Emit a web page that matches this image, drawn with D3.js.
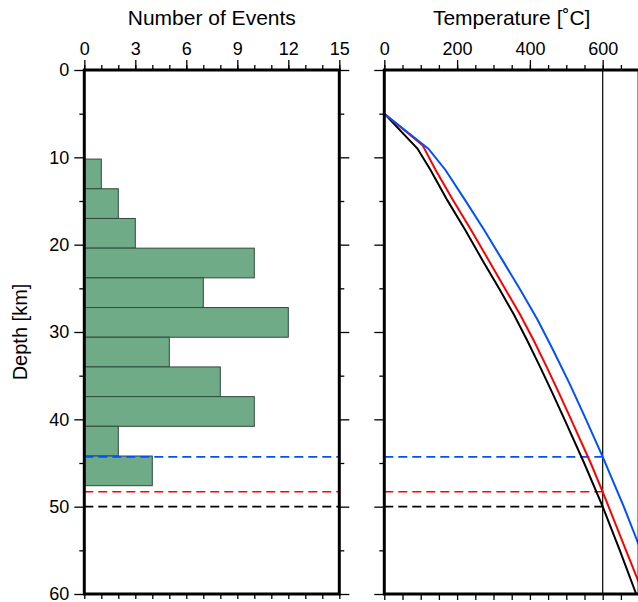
<!DOCTYPE html>
<html>
<head>
<meta charset="utf-8">
<script src="https://cdn.jsdelivr.net/npm/d3@7"></script>
<style>
	body { margin: 0; background: #fff; }
	svg { display: block; font-family: "Liberation Sans", Arial, sans-serif; }
	.tick text { font-size: 18px; fill: #000; }
	.tick line { stroke: #000; stroke-width: 1.3; }
	.domain { display: none; }
</style>
</head>
<body>
<svg id="chart"></svg>
<script>
// Histogram of event depths (km) and counts.
var binEdges = [10.2, 13.6, 17.0, 20.4, 23.8, 27.2, 30.6, 34.0, 37.4, 40.8, 44.2, 47.6];
var eventCounts = [1, 2, 3, 10, 7, 12, 5, 8, 10, 2, 4];

// Geotherms: depth (km) vs temperature (C).
var blackDepths = [5, 9, 11.45, 14.9, 18.3, 21.8, 25, 28, 31, 34, 37, 40, 45, 50, 55, 60];
var blackTemps  = [0, 91, 127, 173, 222, 270, 315, 356, 393, 428, 462, 495, 549, 600, 647, 692];
var redDepths   = [5, 8.6, 11.45, 14.9, 18.3, 21.8, 25, 28, 31, 34, 37, 40, 45, 48.3, 55, 60];
var redTemps    = [0, 105, 141, 189, 238, 287, 331, 373, 411, 446, 480, 513, 567, 600, 664, 712];
var blueDepths  = [5, 9, 11.45, 14.9, 18.3, 21.8, 25.2, 28.6, 32, 36, 40, 44.3, 50, 55, 60];
var blueTemps   = [0, 121, 168, 222, 274, 325, 374, 421, 463, 510, 554, 600, 658, 705, 750];

// Depth of the 600 C isotherm for each geotherm.
var isoColors = ["#000000", "#ff0000", "#0050ff"];
var isoDepths = [50.0, 48.3, 44.3];
var isoTemp = 600;

var countTicks = [0, 3, 6, 9, 12, 15];
var tempTicks = [0, 200, 400, 600];
var depthTicks = [0, 10, 20, 30, 40, 50, 60];

// Definitions.
var width = 638, height = 602;
var plotTop = 70, plotBottom = 594;
var leftX0 = 84.3, leftX1 = 339.3;
var rightX0 = 384.3, rightX1 = 639.1;
var frameWidth = 3;

var svg = d3.select("#chart").attr("width", width).attr("height", height);

var y = d3.scaleLinear().domain([0, 60]).range([plotTop, plotBottom]);
var xCount = d3.scaleLinear().domain([0, 15]).range([leftX0, leftX1]);
var xTemp = d3.scaleLinear().domain([0, 700]).range([rightX0, rightX1]);

svg.append("clipPath").attr("id", "clipRight")
	.append("rect")
	.attr("x", rightX0).attr("y", plotTop)
	.attr("width", rightX1 - rightX0).attr("height", plotBottom - plotTop);

/*************
* Left panel *
*************/
var bins = eventCounts.map(function(c, i) { return {count: c, d0: binEdges[i], d1: binEdges[i + 1]}; });
svg.append("g").selectAll("rect")
	.data(bins)
	.enter()
	.append("rect")
	.attr("x", xCount(0))
	.attr("y", function(d) { return y(d.d0); })
	.attr("width", function(d) { return xCount(d.count) - xCount(0); })
	.attr("height", function(d) { return y(d.d1) - y(d.d0); })
	.attr("fill", "#6fab86")
	.attr("stroke", "#2f4a3a")
	.attr("stroke-width", 1);

var iso = isoDepths.map(function(d, i) { return {depth: d, color: isoColors[i]}; });
svg.append("g").selectAll("line")
	.data(iso)
	.enter()
	.append("line")
	.attr("x1", xCount(0)).attr("x2", xCount(15))
	.attr("y1", function(d) { return y(d.depth); })
	.attr("y2", function(d) { return y(d.depth); })
	.attr("stroke", function(d) { return d.color; })
	.attr("stroke-width", 1.6)
	.attr("stroke-dasharray", "9,5");

// Count axes: top (labelled) and bottom.
svg.append("g").attr("transform", "translate(0," + plotTop + ")")
	.call(d3.axisTop(xCount).tickValues(d3.range(0, 16)).tickSize(5).tickFormat(""));
svg.append("g").attr("transform", "translate(0," + plotTop + ")")
	.call(d3.axisTop(xCount).tickValues(countTicks).tickSize(10).tickPadding(5));
svg.append("g").attr("transform", "translate(0," + plotBottom + ")")
	.call(d3.axisBottom(xCount).tickValues(d3.range(0, 16)).tickSize(5).tickFormat(""));

// Depth axes.
var minorDepth = d3.range(5, 60, 10);
svg.append("g").attr("transform", "translate(" + leftX0 + ",0)")
	.call(d3.axisLeft(y).tickValues(depthTicks).tickSize(10).tickPadding(5));
svg.append("g").attr("transform", "translate(" + leftX0 + ",0)")
	.call(d3.axisLeft(y).tickValues(minorDepth).tickSize(5).tickFormat(""));
svg.append("g").attr("transform", "translate(" + leftX1 + ",0)")
	.call(d3.axisRight(y).tickValues(depthTicks).tickSize(10).tickFormat(""));
svg.append("g").attr("transform", "translate(" + leftX1 + ",0)")
	.call(d3.axisRight(y).tickValues(minorDepth).tickSize(5).tickFormat(""));

svg.append("rect")
	.attr("x", leftX0).attr("y", plotTop)
	.attr("width", leftX1 - leftX0).attr("height", plotBottom - plotTop)
	.attr("fill", "none").attr("stroke", "#000").attr("stroke-width", frameWidth);

svg.append("text")
	.attr("x", (leftX0 + leftX1) / 2).attr("y", 25)
	.attr("text-anchor", "middle").attr("font-size", 21)
	.text("Number of Events");

svg.append("text")
	.attr("transform", "translate(27," + ((plotTop + plotBottom) / 2) + ") rotate(-90)")
	.attr("text-anchor", "middle").attr("font-size", 20)
	.text("Depth [km]");

/**************
* Right panel *
**************/
var plot = svg.append("g").attr("clip-path", "url(#clipRight)");

var geotherms = [
	{color: "#000000", depths: blackDepths, temps: blackTemps},
	{color: "#ff0000", depths: redDepths, temps: redTemps},
	{color: "#0050ff", depths: blueDepths, temps: blueTemps}
];
var line = d3.line()
	.x(function(d) { return xTemp(d[1]); })
	.y(function(d) { return y(d[0]); });

plot.append("line")
	.attr("x1", xTemp(isoTemp)).attr("x2", xTemp(isoTemp))
	.attr("y1", plotTop).attr("y2", plotBottom)
	.attr("stroke", "#000").attr("stroke-width", 1.2);

plot.selectAll("line.iso")
	.data(iso)
	.enter()
	.append("line")
	.attr("class", "iso")
	.attr("x1", xTemp(0)).attr("x2", xTemp(isoTemp))
	.attr("y1", function(d) { return y(d.depth); })
	.attr("y2", function(d) { return y(d.depth); })
	.attr("stroke", function(d) { return d.color; })
	.attr("stroke-width", 1.6)
	.attr("stroke-dasharray", "9,5");

plot.selectAll("path.geo")
	.data(geotherms)
	.enter()
	.append("path")
	.attr("class", "geo")
	.attr("d", function(g) { return line(g.depths.map(function(d, i) { return [d, g.temps[i]]; })); })
	.attr("fill", "none")
	.attr("stroke", function(g) { return g.color; })
	.attr("stroke-width", 2);

// Temperature axes.
var minorTemp = d3.range(0, 701, 50);
svg.append("g").attr("transform", "translate(0," + plotTop + ")")
	.call(d3.axisTop(xTemp).tickValues(minorTemp).tickSize(5).tickFormat(""));
svg.append("g").attr("transform", "translate(0," + plotTop + ")")
	.call(d3.axisTop(xTemp).tickValues(tempTicks).tickSize(10).tickPadding(5));
svg.append("g").attr("transform", "translate(0," + plotBottom + ")")
	.call(d3.axisBottom(xTemp).tickValues(minorTemp).tickSize(6).tickFormat(""));

svg.append("g").attr("transform", "translate(" + rightX0 + ",0)")
	.call(d3.axisLeft(y).tickValues(depthTicks).tickSize(10).tickFormat(""));
svg.append("g").attr("transform", "translate(" + rightX0 + ",0)")
	.call(d3.axisLeft(y).tickValues(minorDepth).tickSize(5).tickFormat(""));

svg.append("rect")
	.attr("x", rightX0).attr("y", plotTop)
	.attr("width", rightX1 - rightX0).attr("height", plotBottom - plotTop)
	.attr("fill", "none").attr("stroke", "#000").attr("stroke-width", frameWidth);

svg.append("text")
	.attr("x", (rightX0 + rightX1) / 2).attr("y", 25)
	.attr("text-anchor", "middle").attr("font-size", 21)
	.text("Temperature [˚C]");
</script>
</body>
</html>
